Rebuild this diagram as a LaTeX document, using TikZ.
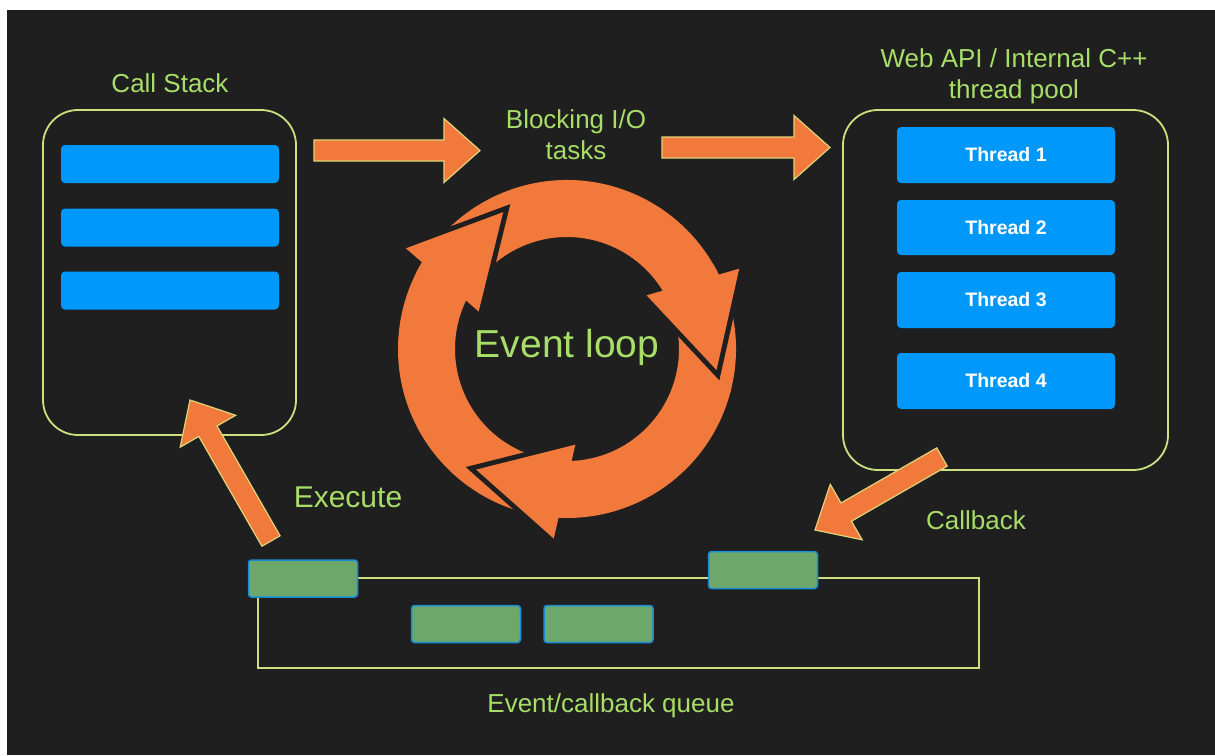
\documentclass[tikz,border=0pt]{standalone}
\usepackage{fontspec}
\setmainfont{Liberation Sans}
\usetikzlibrary{calc}

\definecolor{bg}{RGB}{31,31,31}
\definecolor{lime}{RGB}{168,222,104}
\definecolor{pale}{RGB}{205,224,128}
\definecolor{loopcol}{RGB}{242,121,60}
\definecolor{rim}{RGB}{222,212,120}
\definecolor{barblue}{RGB}{0,152,250}
\definecolor{itemgreen}{RGB}{108,168,108}
\definecolor{itemedge}{RGB}{25,140,215}

\tikzset{
  lbl/.style={text=lime, font=\fontsize{26}{31}\selectfont, align=center},
  frame/.style={draw=pale, line width=1.8pt, rounded corners=35pt, inner sep=0pt},
  slot/.style={fill=barblue, rounded corners=4pt, inner sep=0pt, minimum width=218pt,
    text=white, font=\bfseries\fontsize{19.5}{22}\selectfont},
  item/.style={fill=itemgreen, draw=itemedge, line width=1.5pt, rounded corners=3pt,
    inner sep=0pt, minimum width=109pt, minimum height=37pt},
  fat/.style={fill=loopcol, draw=rim, line width=1.2pt, line join=miter},
}

% block arrow from #1 to #2
\newcommand{\blockarrow}[2]{%
  \coordinate (ba-s) at (#1);
  \coordinate (ba-e) at (#2);
  \coordinate (ba-h) at ($(ba-e)!36pt!(ba-s)$);
  \filldraw[fat] ($(ba-s)!10.5pt!90:(ba-e)$) -- ($(ba-h)!10.5pt!-90:(ba-s)$)
    -- ($(ba-h)!32pt!-90:(ba-s)$) -- (ba-e) -- ($(ba-h)!32pt!90:(ba-s)$)
    -- ($(ba-h)!10.5pt!90:(ba-s)$) -- ($(ba-s)!10.5pt!-90:(ba-e)$) -- cycle;
}

\begin{document}
\begin{tikzpicture}[x=1pt,y=1pt]
\useasboundingbox (0,0) rectangle (1215,-755);
\fill[white] (0,0) rectangle (1215,-755);
\fill[bg] (7,-10) rectangle (1215,-755);

% call stack
\node[frame, minimum width=253pt, minimum height=325pt] (stack) at (169.5,-272.5) {};
\node[lbl] (stacklbl) at (170,-83.5) {Call Stack};
\node[slot, minimum height=38pt] (s1) at (170,-164) {};
\node[slot, minimum height=38pt] (s2) at (170,-227.5) {};
\node[slot, minimum height=38pt] (s3) at (170,-290.5) {};

% thread pool
\node[frame, minimum width=325pt, minimum height=360pt] (pool) at (1005.5,-290) {};
\node[lbl] (poollbl) at (1014,-76) {Web API / Internal C++\\thread pool};
\node[slot, minimum height=56pt] (t1) at (1006,-155) {Thread 1};
\node[slot, minimum height=55pt] (t2) at (1006,-227.5) {Thread 2};
\node[slot, minimum height=56pt] (t3) at (1006,-300) {Thread 3};
\node[slot, minimum height=56pt] (t4) at (1006,-381) {Thread 4};

\node[lbl] (io) at (576,-134.5) {Blocking I/O\\tasks};

% queue
\node[draw=pale, line width=1.5pt, minimum width=721pt, minimum height=90pt, inner sep=0pt] (queue) at (618.5,-623) {};
\node[item] (q1) at (303,-578.5) {};
\node[item] (q2) at (466,-624) {};
\node[item] (q3) at (598.5,-624) {};
\node[item] (q4) at (763,-570) {};
\node[lbl] (queuelbl) at (611,-706) {Event/callback queue};

% event loop ring
\coordinate (loop) at (567,-349);
\foreach \a/\b in {153/27, 30/-92, -89/-210}
  \fill[loopcol] ($(loop)+(\a:169)$) arc[start angle=\a, end angle=\b, radius=169]
    -- ($(loop)+(\b:112)$) arc[start angle=\b, end angle=\a, radius=112] -- cycle;
\foreach \t [evaluate=\t as \tip using \t-33, evaluate=\t as \bk using \t+9] in {25,-94,148}{
  \draw[bg, line width=10pt] ($(loop)+(\t:190)$) -- ($(loop)+(\tip:151)$) -- ($(loop)+(\bk:96)$);
  \fill[loopcol] ($(loop)+(\t:190)$) -- ($(loop)+(\tip:151)$) -- ($(loop)+(\bk:96)$) -- cycle;
}
\node[lbl, font=\fontsize{39}{44}\selectfont] (looplbl) at (loop) [yshift=2pt] {Event loop};

% connectors
\coordinate (a1s) at (314,-150.5);
\coordinate (a1e) at (480,-150.5);
\coordinate (a2s) at (662,-147.5);
\coordinate (a2e) at (830,-147.5);
\coordinate (exs) at (271,-541);
\coordinate (exe) at (190,-400);
\coordinate (cbs) at (942,-457);
\coordinate (cbe) at (815,-530);
\blockarrow{a1s}{a1e}
\blockarrow{a2s}{a2e}
\blockarrow{exs}{exe}
\blockarrow{cbs}{cbe}
\node[lbl, font=\fontsize{30}{34}\selectfont] (exlbl) at (348,-497) {Execute};
\node[lbl] (cblbl) at (976,-520.5) {Callback};
\end{tikzpicture}
\end{document}
